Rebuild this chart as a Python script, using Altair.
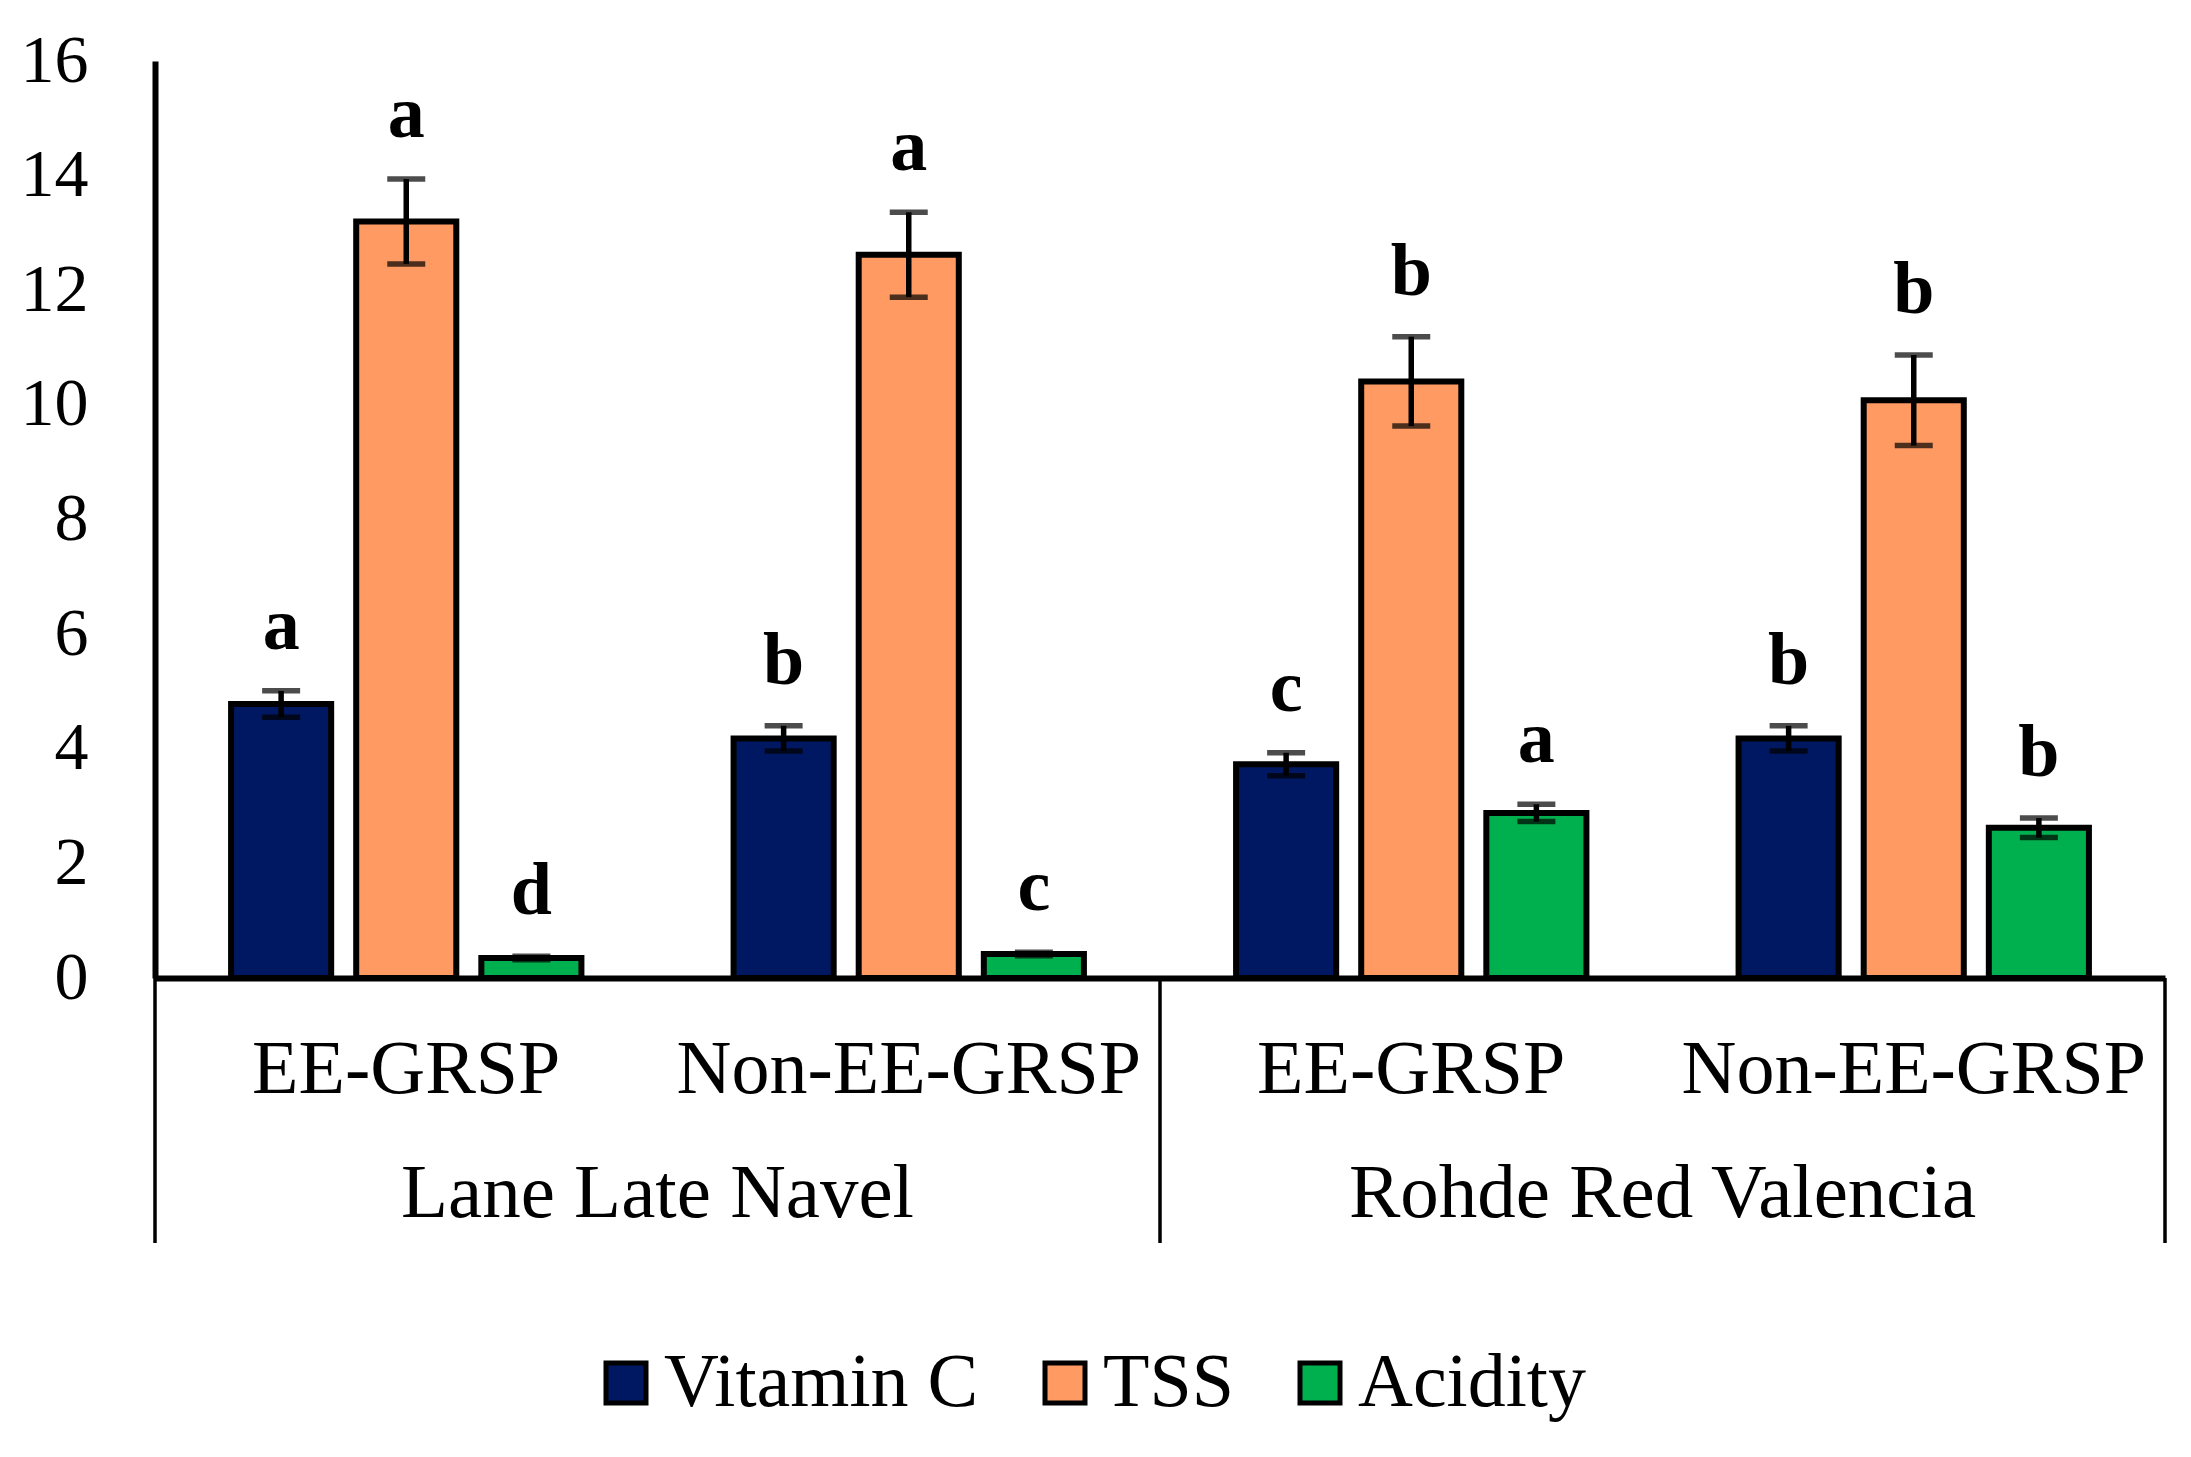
import altair as alt
import pandas as pd

groups = ["Lane Late Navel", "Rohde Red Valencia"]
subgroups = ["EE-GRSP", "Non-EE-GRSP"]
variables = ["Vitamin C", "TSS", "Acidity"]
colors = ["#001861", "#FF9A63", "#00B04F"]

# order of columns: (LLN, EE), (LLN, Non), (RRV, EE), (RRV, Non)
col_group = ["Lane Late Navel", "Lane Late Navel", "Rohde Red Valencia", "Rohde Red Valencia"]
col_sub = ["EE-GRSP", "Non-EE-GRSP", "EE-GRSP", "Non-EE-GRSP"]

vitc_values = [4.78, 4.18, 3.73, 4.18]
tss_values = [13.2, 12.62, 10.41, 10.08]
acid_values = [0.35, 0.42, 2.88, 2.62]

vitc_err = [0.23, 0.22, 0.20, 0.22]
tss_err = [0.74, 0.74, 0.78, 0.79]
acid_err = [0.03, 0.03, 0.15, 0.17]

vitc_letters = ["a", "b", "c", "b"]
tss_letters = ["a", "a", "b", "b"]
acid_letters = ["d", "c", "a", "b"]

rows = []
for var, vals, errs, lets in [
    ("Vitamin C", vitc_values, vitc_err, vitc_letters),
    ("TSS", tss_values, tss_err, tss_letters),
    ("Acidity", acid_values, acid_err, acid_letters),
]:
    for g, s, v, e, l in zip(col_group, col_sub, vals, errs, lets):
        rows.append({"cultivar": g, "sub": s, "key": g + "|" + s, "var": var,
                     "value": v, "lo": v - e, "hi": v + e, "letter": l})
df = pd.DataFrame(rows)
keys = [g + "|" + s for g, s in zip(col_group, col_sub)]

W = 2010
H = 917
FONT = "Liberation Serif"

xscale = alt.Scale(domain=keys, paddingInner=0, paddingOuter=0)

base = alt.Chart(df).encode(
    x=alt.X("key:N", sort=keys, scale=xscale,
            axis=alt.Axis(title=None, labelAngle=0, labelFont=FONT, labelFontSize=76,
                          labelColor="black", labelPadding=54, ticks=False, tickSize=0,
                          domainWidth=6, domainColor="black", labelBaseline="top",
                          labelLimit=800, labelExpr="split(datum.label, '|')[1]")),
    xOffset=alt.XOffset("var:N", sort=variables,
                        scale=alt.Scale(paddingInner=0.2, paddingOuter=0.608)),
)

bars = base.mark_bar(stroke="black", strokeWidth=6).encode(
    y=alt.Y("value:Q", scale=alt.Scale(domain=[0, 16], nice=False),
            axis=alt.Axis(values=list(range(0, 17, 2)), format="d", title=None, grid=False,
                          ticks=False, tickSize=0, domainWidth=6, domainColor="black",
                          labelFont=FONT, labelFontSize=68, labelColor="black",
                          labelPadding=67)),
    color=alt.Color("var:N", sort=variables,
                    scale=alt.Scale(domain=variables, range=colors),
                    legend=alt.Legend(title=None, orient="none", direction="horizontal",
                                      legendX=433, legendY=1284,
                                      symbolType="square", symbolSize=1600,
                                      symbolStrokeColor="black", symbolStrokeWidth=5,
                                      symbolOpacity=1,
                                      labelFont=FONT, labelFontSize=76, labelColor="black",
                                      labelOffset=0, columnPadding=48, padding=0,
                                      labelLimit=800)),
)

err_rule = base.mark_rule(color="black", strokeWidth=5.5).encode(y="lo:Q", y2="hi:Q")
cap_lo = base.mark_tick(color="black", thickness=5.5, size=38).encode(y="lo:Q")
cap_hi = base.mark_tick(color="black", thickness=5.5, size=38).encode(y="hi:Q")

letters = base.mark_text(font=FONT, fontWeight="bold", fontSize=74, color="black",
                         baseline="alphabetic", dy=-42).encode(y="hi:Q", text="letter:N")

one_per_group = (alt.datum["var"] == "TSS") & (alt.datum["sub"] == "EE-GRSP")

table_lines = alt.layer(*[
    alt.Chart(df).mark_rule(color="black", strokeWidth=3.5).encode(
        x=alt.value(xv), y=alt.value(H), y2=alt.value(H + 265)
    ).transform_filter(one_per_group).transform_filter(alt.datum.cultivar == groups[0])
    for xv in [0, W / 2, W]
])

# group label centred on the boundary between its two sub-columns
group_text = alt.Chart(df).mark_text(font=FONT, fontSize=77, color="black",
                                     baseline="middle").encode(
    x=alt.X("key:N", sort=keys, scale=xscale, bandPosition=1),
    y=alt.value(H + 216), text="cultivar:N").transform_filter(one_per_group)

chart = alt.layer(bars, err_rule, cap_lo, cap_hi, letters, table_lines, group_text).properties(
    width=W, height=H,
    padding={"left": 12, "top": 19, "right": 5, "bottom": 5}
).configure(background="white").configure_view(stroke="transparent", strokeWidth=0)

chart.save("out.html", embed_options={"renderer": "svg", "actions": False})
